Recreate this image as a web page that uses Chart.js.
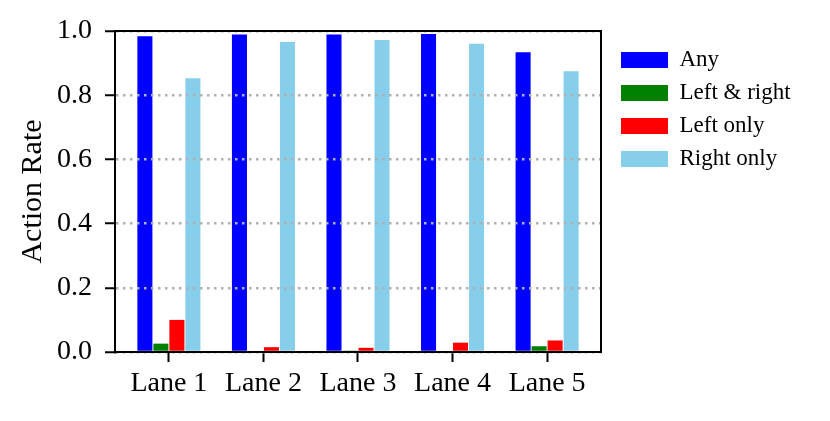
<!DOCTYPE html>
<html>
<head>
<meta charset="utf-8">
<script src="https://cdn.jsdelivr.net/npm/chart.js@4.4.1/dist/chart.umd.min.js"></script>
<style>
  html, body { margin: 0; padding: 0; background: #fff; }
  .barchart { position: relative; width: 830px; height: 421px; }
</style>
</head>
<body>
<div class="barchart"><canvas id="chart"></canvas></div>
<script>
// categories and series
const lanes = ['Lane 1', 'Lane 2', 'Lane 3', 'Lane 4', 'Lane 5'];
const anyRate = [0.984, 0.989, 0.989, 0.991, 0.934];
const leftRightRate = [0.026, 0.004, 0.002, 0.0, 0.018];
const leftOnlyRate = [0.100, 0.015, 0.013, 0.029, 0.036];
const rightOnlyRate = [0.853, 0.966, 0.972, 0.960, 0.875];
const yTickLabels = ['0.0', '0.2', '0.4', '0.6', '0.8', '1.0'];

const serif = "'Liberation Serif', 'Times New Roman', serif";

const toPoints = arr => arr.map((v, i) => ({ x: i, y: v }));

// box round the plot (matplotlib-like spines) + legend placement
const framePlugin = {
  id: 'frame',
  beforeDraw(chart) {
    const lg = chart.legend;
    if (lg) {
      lg.left = 611;
      lg.top = 38.5;
      lg.right = 830;
      lg.bottom = 421;
      lg.width = lg.right - lg.left;
      lg.height = lg.bottom - lg.top;
    }
  },
  afterDraw(chart) {
    const { ctx, chartArea } = chart;
    ctx.save();
    ctx.strokeStyle = '#000';
    ctx.lineWidth = 2;
    ctx.strokeRect(chartArea.left, chartArea.top,
      chartArea.right - chartArea.left, chartArea.bottom - chartArea.top);
    ctx.restore();
  }
};

Chart.defaults.color = '#000';
Chart.defaults.font.family = serif;

const ctx = document.getElementById('chart').getContext('2d');
new Chart(ctx, {
  type: 'bar',
  data: {
    datasets: [
      { label: 'Any', data: toPoints(anyRate), backgroundColor: '#0000ff' },
      { label: 'Left & right', data: toPoints(leftRightRate), backgroundColor: '#008000' },
      { label: 'Left only', data: toPoints(leftOnlyRate), backgroundColor: '#ff0000' },
      { label: 'Right only', data: toPoints(rightOnlyRate), backgroundColor: '#87ceeb' }
    ]
  },
  options: {
    responsive: true,
    maintainAspectRatio: false,
    animation: false,
    datasets: {
      bar: { categoryPercentage: 0.677, barPercentage: 0.94, borderWidth: 0 }
    },
    layout: { padding: { top: 31, right: 79, bottom: 0, left: 0 } },
    plugins: {
      tooltip: { enabled: false },
      legend: {
        position: 'right',
        align: 'start',
        maxWidth: 150,
        labels: {
          boxWidth: 47,
          boxHeight: 16,
          padding: 10,
          font: { size: 23, family: serif }
        }
      }
    },
    scales: {
      x: {
        type: 'linear',
        offset: false,
        min: -0.57,
        max: 4.57,
        afterBuildTicks: scale => {
          scale.ticks = lanes.map((_, i) => ({ value: i }));
        },
        afterFit: scale => { scale.height = 69; },
        ticks: {
          autoSkip: false,
          maxRotation: 0,
          padding: 5,
          font: { size: 28, family: serif },
          callback: v => lanes[Math.round(v)]
        },
        grid: {
          offset: false,
          drawOnChartArea: false,
          drawTicks: true,
          tickLength: 10,
          tickWidth: 2,
          tickColor: '#000'
        },
        border: { display: true, color: '#000', width: 2 }
      },
      y: {
        min: 0,
        max: 1,
        afterFit: scale => { scale.width = 115; },
        ticks: {
          stepSize: 0.2,
          padding: 13,
          font: { size: 28, family: serif },
          callback: (v, i) => yTickLabels[i]
        },
        title: {
          display: true,
          text: 'Action Rate',
          padding: { top: 15, bottom: 0 },
          font: { size: 30, family: serif }
        },
        grid: {
          z: 1,
          color: '#b0b0b0',
          lineWidth: 2.5,
          tickLength: 10,
          tickWidth: 2,
          tickColor: '#000',
          tickBorderDash: []
        },
        border: { display: true, z: 1, color: '#000', width: 2, dash: [2.5, 4.5] }
      }
    }
  },
  plugins: [framePlugin]
});
</script>
</body>
</html>
